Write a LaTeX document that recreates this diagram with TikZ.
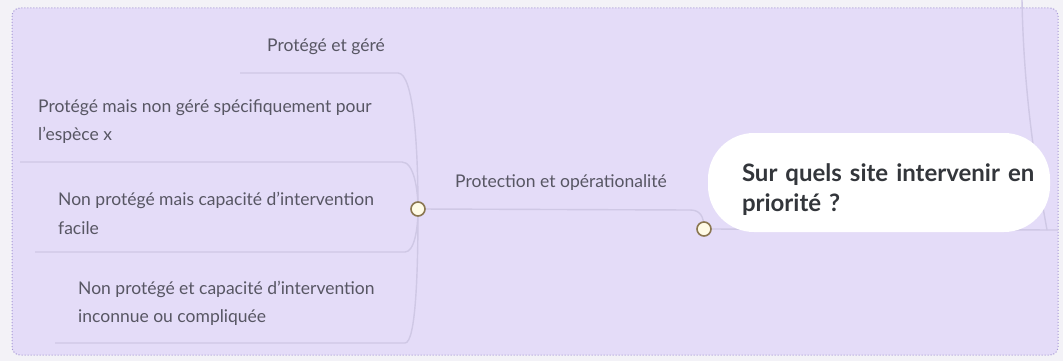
\documentclass[tikz,border=0pt]{standalone}
\usepackage{fontspec}
\setmainfont{Lato}
\usetikzlibrary{positioning}
\definecolor{pagebg}{HTML}{F3F2F7}
\definecolor{zonefill}{HTML}{E4DCF8}
\definecolor{zoneline}{HTML}{A698D4}
\definecolor{linkcol}{HTML}{CFC8E5}
\definecolor{knobline}{HTML}{8A7650}
\definecolor{knobfill}{HTML}{FFFBE6}
\definecolor{txtgrey}{HTML}{575663}
\definecolor{txtdark}{HTML}{33363B}

\begin{document}
\begin{tikzpicture}[x=1pt, y=-1pt,
    topic/.style={inner sep=0pt, align=left, text=txtgrey, font=\fontsize{17.5}{28.5}\selectfont},
    link/.style={draw=linkcol, line width=1.4pt},
    knob/.style={circle, draw=knobline, fill=knobfill, line width=1.6pt, minimum size=14pt, inner sep=0pt},
    central/.style={rectangle, rounded corners=46pt, fill=white, minimum width=342pt, minimum height=99pt,
        inner xsep=4pt, text width=330pt, align=left, text=txtdark,
        font=\fontsize{24}{30}\selectfont\bfseries,
        execute at begin node={\leftskip=28pt\rule{0pt}{33pt}}},
]
\useasboundingbox (0,0) rectangle (1063,361);
\fill[pagebg] (0,0) rectangle (1063,361);
\draw[zoneline, fill=zonefill, dotted, line width=1pt, rounded corners=8pt] (12,8) rectangle (1058,355);

% hubs and line ends
\coordinate (hubprot) at (418,209);
\coordinate (hubsite) at (704,229);
\coordinate (parent) at (1022,0);
\coordinate (site-r) at (1058,230);
\coordinate (prot-r) at (690,210);
\coordinate (pg-l) at (240,73);     \coordinate (pg-r) at (398,73);
\coordinate (pmng-l) at (20,162);   \coordinate (pmng-r) at (402,162);
\coordinate (npci-l) at (35,252);   \coordinate (npci-r) at (405,252);
\coordinate (npcc-l) at (55,343);   \coordinate (npcc-r) at (405,343);

% connectors
\draw[link] (pg-l) -- (pg-r) .. controls (414,73) and (418,150) .. (hubprot);
\draw[link] (pmng-l) -- (pmng-r) .. controls (414,162) and (418,190) .. (hubprot);
\draw[link] (npci-l) -- (npci-r) .. controls (414,252) and (418,230) .. (hubprot);
\draw[link] (npcc-l) -- (npcc-r) .. controls (416,343) and (418,270) .. (hubprot);
\draw[link] (hubprot) -- (prot-r) .. controls (700,210) and (704,216) .. (hubsite);
\draw[link] (hubsite) -- (site-r);
\draw[link] (parent) .. controls (1024,110) and (1040,190) .. (1047,230);

% topics
\node[topic, anchor=east] (pg) at (385,47) {Protégé et géré};
\node[topic, anchor=west] (pmng) at (38,121.5) {Protégé mais non géré spécifiquement pour\\l'espèce x};
\node[topic, anchor=west] (npci) at (58,213.5) {Non protégé mais capacité d'intervention\\facile};
\node[topic, anchor=west] (npcc) at (78,303.5) {Non protégé et capacité d'intervention\\inconnue ou compliquée};
\node[topic] (prot) at (561,183) {Protection et opérationalité};
\node[central] (site) at (879,182.5) {Sur quels site intervenir en\\priorité ?};

\node[knob] at (hubprot) {};
\node[knob] at (hubsite) {};
\end{tikzpicture}
\end{document}
